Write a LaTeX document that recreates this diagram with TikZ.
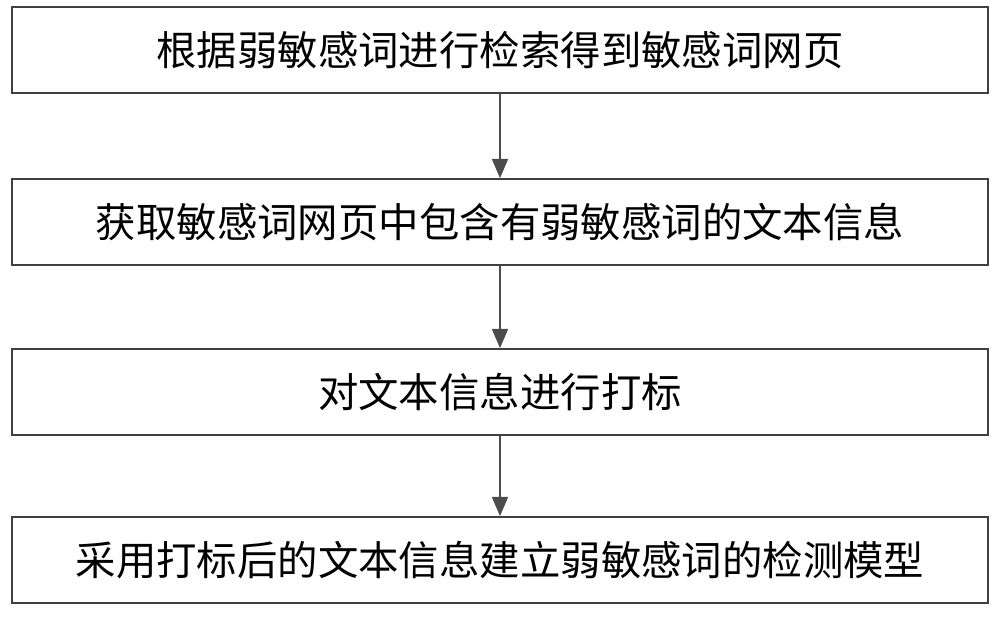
\documentclass[tikz,border=0pt]{standalone}
\usepackage{fontspec}
\newfontfamily\cjk{Noto Sans CJK SC}
\usetikzlibrary{arrows.meta}
\begin{document}
\begin{tikzpicture}[x=0.02cm,y=-0.02cm,
  stepbox/.style={draw=black!75,line width=0.9pt,minimum width=976*0.02cm,minimum height=86*0.02cm,inner sep=0pt,font=\cjk\fontsize{23}{28}\selectfont},
  conn/.style={draw=black!70,line width=1.4pt,-{Triangle[length=11pt,width=9pt]}}]
\useasboundingbox (0,0) rectangle (1000,616);
\fill[white] (0,0) rectangle (1000,616);
\node[stepbox] (a) at (500,50) {根据弱敏感词进行检索得到敏感词网页};
\node[stepbox] (b) at (500,222) {获取敏感词网页中包含有弱敏感词的文本信息};
\node[stepbox] (c) at (500,392) {对文本信息进行打标};
\node[stepbox] (d) at (500,560) {采用打标后的文本信息建立弱敏感词的检测模型};
\draw[conn] (a) -- (b);
\draw[conn] (b) -- (c);
\draw[conn] (c) -- (d);
\end{tikzpicture}
\end{document}
